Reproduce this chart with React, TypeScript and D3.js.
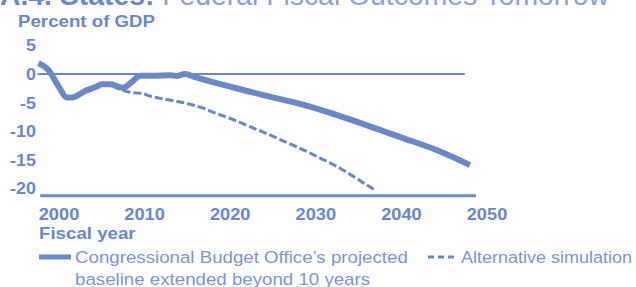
import * as d3 from "d3";
import type { ReactNode } from "react";

const W = 636;
const H = 287;
const blue = "#6a87c6";
const light = "#7c96cf";

// CBO baseline, percent of GDP
const baseYears = [1997.6, 1998.75, 2000, 2000.9, 2001.5, 2003, 2004.4, 2005, 2006, 2007.5, 2008.5, 2009.5, 2011, 2013, 2013.75, 2014.7, 2016, 2018.4, 2020, 2022.3, 2024.7, 2028.6, 2032.5, 2036.4, 2040.2, 2044.1, 2048];
const baseVals = [1.9, 0.7, -2.3, -4.1, -4.1, -3.0, -2.2, -1.8, -1.8, -2.4, -1.4, -0.3, -0.3, -0.2, -0.35, 0, -0.6, -1.6, -2.2, -3.1, -4.0, -5.4, -7.2, -9.2, -11.2, -13.3, -15.9];

// alternative simulation
const altYears = [2005, 2006, 2007, 2008.3, 2009.7, 2010.6, 2012, 2014.5, 2016.5, 2018.4, 2020.4, 2022.3, 2024.7, 2026.5, 2028.6, 2030.5, 2032.5, 2034.7, 2036.9];
const altVals = [-1.8, -1.9, -2.6, -3.2, -3.4, -3.85, -4.3, -5.0, -5.8, -6.9, -8.0, -9.2, -10.7, -11.9, -13.3, -14.7, -16.2, -18.2, -20.3];

const yTicks = [5, 0, -5, -10, -15, -20];
const xTicks = [2000, 2010, 2020, 2030, 2040, 2050];

const x = d3.scaleLinear().domain([2000, 2050]).range([59, 487]);
const y = d3.scaleLinear().domain([0, -20]).range([74, 188.4]);

// text stretched a bit horizontally, like the source image
const T = ({
  x: tx,
  y: ty,
  sx = 1.1,
  children,
  ...rest
}: {
  x: number;
  y: number;
  sx?: number;
  children: ReactNode;
  [k: string]: unknown;
}) => (
  <text transform={`translate(${tx},${ty}) scale(${sx},1)`} {...rest}>
    {children}
  </text>
);

export default function App() {
  const line = d3
    .line<number>()
    .x((_, i) => x(baseYears[i]))
    .y((d) => y(d))
    .curve(d3.curveMonotoneX);
  const altLine = d3
    .line<number>()
    .x((_, i) => x(altYears[i]))
    .y((d) => y(d))
    .curve(d3.curveMonotoneX);

  const font = "'Liberation Sans', Arial, sans-serif";

  return (
    <svg
      width={W}
      height={H}
      style={{ position: "absolute", left: 0, top: 0, background: "#fff" }}
      fontFamily={font}
    >
      {/* title, mostly cut off at the top */}
      <T x={0} y={5} sx={1.05} fontSize={27} fill={blue}>
        <tspan fontWeight="bold">A.4. States:</tspan>
        <tspan fill="#8aa2d4"> Federal Fiscal Outcomes Tomorrow</tspan>
      </T>

      <T x={18} y={27} fontSize={17} fontWeight="bold" fill={blue}>
        Percent of GDP
      </T>

      {yTicks.map((t) => (
        <T key={t} x={36} y={y(t) + 6} sx={1.12} textAnchor="end" fontSize={16} fontWeight="bold" fill={blue}>
          {t}
        </T>
      ))}

      {/* zero line and bottom axis */}
      <line x1={x(1997.5)} x2={x(2047.4)} y1={y(0)} y2={y(0)} stroke={blue} strokeWidth={2} />
      <line x1={x(1997.8)} x2={x(2048.7)} y1={y(-21.3)} y2={y(-21.3)} stroke={blue} strokeWidth={3} />

      {xTicks.map((t) => (
        <T key={t} x={x(t)} y={220} sx={1.14} textAnchor="middle" fontSize={16} fontWeight="bold" fill={blue}>
          {t}
        </T>
      ))}

      <T x={39} y={239} fontSize={17} fontWeight="bold" fill={blue}>
        Fiscal year
      </T>

      <path d={altLine(altVals) ?? ""} fill="none" stroke={blue} strokeWidth={3} strokeDasharray="8 3" />
      <path d={line(baseVals) ?? ""} fill="none" stroke={blue} strokeWidth={6} />

      {/* legend */}
      <line x1={39} x2={71} y1={257} y2={257} stroke={blue} strokeWidth={5} />
      <T x={75} y={263} fontSize={17} fill={light}>
        Congressional Budget Office’s projected
      </T>
      <T x={75} y={285} fontSize={17} fill={light}>
        baseline extended beyond 10 years
      </T>
      <line x1={428} x2={455} y1={257} y2={257} stroke={blue} strokeWidth={3} strokeDasharray="6 4" />
      <T x={461} y={263} sx={1.06} fontSize={17} fill={light}>
        Alternative simulation
      </T>
    </svg>
  );
}
